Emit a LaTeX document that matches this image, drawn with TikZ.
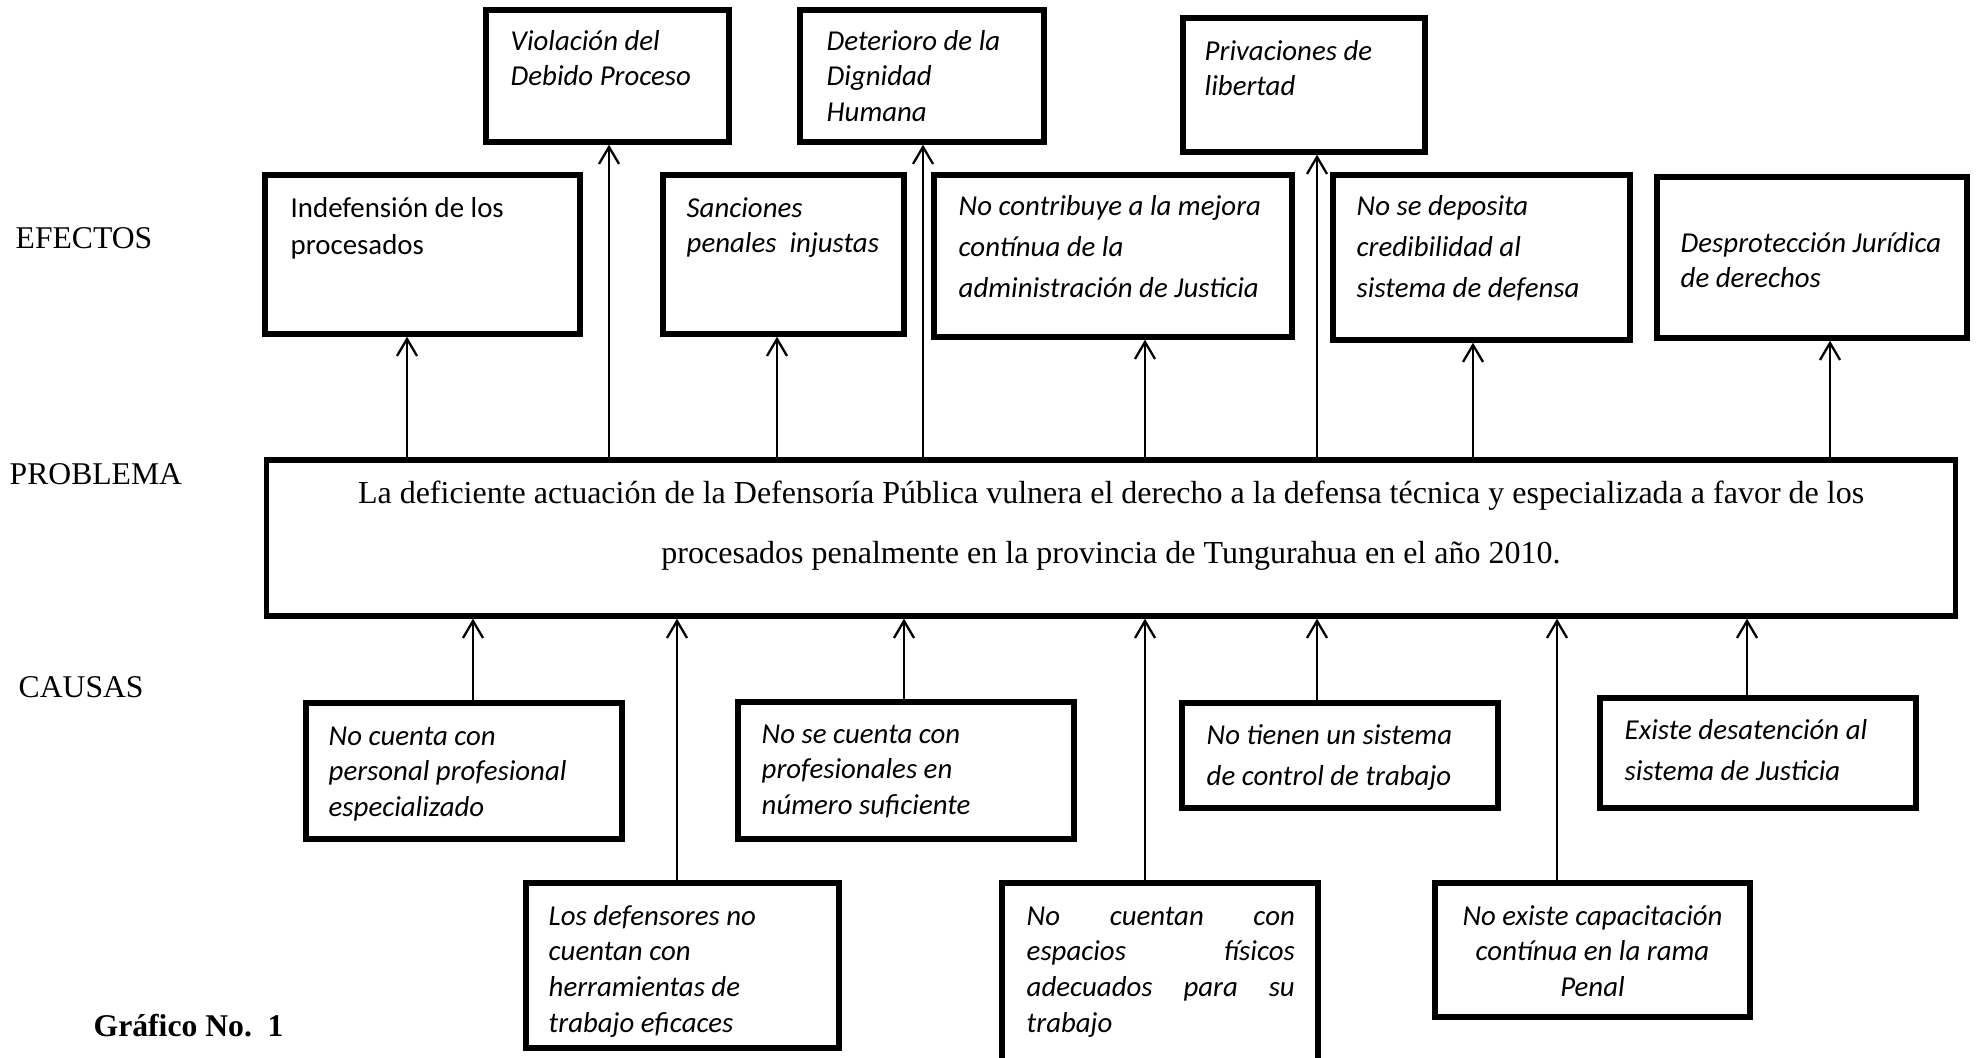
\documentclass[tikz,border=0pt]{standalone}
\usepackage{fontspec}
\setmainfont{Liberation Serif}
\newfontfamily\calibri{Carlito}
\usetikzlibrary{arrows.meta}

\begin{document}
\begin{tikzpicture}[x=0.01cm, y=-0.01cm,
    frame/.style={draw, line width=1.5pt, inner sep=0pt},
    ctxt/.style={anchor=base west, inner sep=0pt, align=flush left,
      font=\calibri\itshape\fontsize{8.2}{10.2}\selectfont},
    ctxtwide/.style={ctxt, font=\calibri\itshape\fontsize{8.2}{11.7}\selectfont},
    side/.style={anchor=base west, inner sep=0pt, font=\fontsize{9}{11}\selectfont},
    arr/.style={line width=0.65pt, -{Straight Barb[length=1.7mm, width=2mm]}}]
    % Page size
    \useasboundingbox (0,0) rectangle (1976,1057);

    % Row labels on the left
    \node[side] (lefe) at (15,248) {EFECTOS};
    \node[side] (lpro) at (9,484) {PROBLEMA};
    \node[side] (lcau) at (18,697) {CAUSAS};
    \node[side, font=\bfseries\fontsize{9}{11}\selectfont] (lgra) at (93,1036) {Gráfico No.\ \ 1};

    % Central problem
    \node[frame, minimum width=16.88cm, minimum height=1.56cm] (prob) at (1111,538) {};
    \node[anchor=base, inner sep=0pt, text width=16cm, align=flush center,
          font=\fontsize{9.1}{17.07}\selectfont] (prob-t) at (1111,503)
      {La deficiente actuación de la Defensoría Pública vulnera el derecho a la defensa técnica y especializada a favor de los\\
       procesados penalmente en la provincia de Tungurahua en el año 2010.};

    % Effects, upper row
    \node[frame, minimum width=2.43cm, minimum height=1.32cm] (viol) at (607.5,76) {};
    \node[ctxt, text width=2.1cm] (viol-t) at (510,50) {Violación del\\Debido Proceso};
    \node[frame, minimum width=2.44cm, minimum height=1.32cm] (deter) at (922,76) {};
    \node[ctxt, text width=2.1cm] (deter-t) at (826,50) {Deterioro de la\\Dignidad\\Humana};
    \node[frame, minimum width=2.42cm, minimum height=1.34cm] (priv) at (1304,85) {};
    \node[ctxt, text width=2.1cm] (priv-t) at (1204,60) {Privaciones de\\libertad};

    % Effects, lower row
    \node[frame, minimum width=3.15cm, minimum height=1.59cm] (indef) at (422.5,254.5) {};
    \node[ctxt, text width=2.8cm, font=\calibri\fontsize{8.2}{10.8}\selectfont] (indef-t) at (290,217) {Indefensión de los\\procesados};
    \node[frame, minimum width=2.41cm, minimum height=1.59cm] (sanc) at (783.5,254.5) {};
    \node[ctxt, text width=2.1cm] (sanc-t) at (686,217) {Sanciones\\penales~ injustas};
    \node[frame, minimum width=3.58cm, minimum height=1.62cm] (contr) at (1113,256) {};
    \node[ctxtwide, text width=3.25cm] (contr-t) at (958,215) {No contribuye a la mejora\\contínua de la\\administración de Justicia};
    \node[frame, minimum width=2.97cm, minimum height=1.65cm] (depos) at (1481.5,257.5) {};
    \node[ctxtwide, text width=2.65cm] (depos-t) at (1356,215) {No se deposita\\credibilidad al\\sistema de defensa};
    \node[frame, minimum width=3.10cm, minimum height=1.61cm] (despr) at (1812,257.5) {};
    \node[ctxt, text width=2.85cm, font=\calibri\itshape\fontsize{8.2}{10}\selectfont] (despr-t) at (1680,252) {Desprotección Jurídica\\de derechos};

    % Causes, first row
    \node[frame, minimum width=3.16cm, minimum height=1.36cm] (pers) at (464,771) {};
    \node[ctxt, text width=2.75cm] (pers-t) at (328,745) {No cuenta con\\personal profesional\\especializado};
    \node[frame, minimum width=3.36cm, minimum height=1.37cm] (prof) at (906,770.5) {};
    \node[ctxt, text width=2.9cm] (prof-t) at (761,743) {No se cuenta con\\profesionales en\\número suficiente};
    \node[frame, minimum width=3.16cm, minimum height=1.05cm] (ctrl) at (1340,755.5) {};
    \node[ctxtwide, text width=2.8cm] (ctrl-t) at (1206,744) {No tienen un sistema\\de control de trabajo};
    \node[frame, minimum width=3.16cm, minimum height=1.10cm] (desat) at (1758,753) {};
    \node[ctxtwide, text width=2.8cm] (desat-t) at (1624,739) {Existe desatención al\\sistema de Justicia};

    % Causes, second row
    \node[frame, minimum width=3.13cm, minimum height=1.65cm] (herr) at (682.5,965.5) {};
    \node[ctxt, text width=2.8cm] (herr-t) at (548,925) {Los defensores no\\cuentan con\\herramientas de\\trabajo eficaces};
    \node[frame, minimum width=3.16cm, minimum height=1.83cm] (esp) at (1160,974.5) {};
    \node[ctxt, text width=2.68cm, align=justify] (esp-t) at (1026,925) {No cuentan con\linebreak espacios físicos\linebreak adecuados para su\linebreak trabajo};
    \node[frame, minimum width=3.15cm, minimum height=1.34cm] (capa) at (1592.5,950) {};
    \node[ctxt, anchor=base, text width=2.95cm, align=flush center] (capa-t) at (1592.5,925) {No existe capacitación\\contínua en la rama\\Penal};

    % Arrows from the problem up to the effects
    \foreach \nd/\ax in {indef/407, viol/609, sanc/777, deter/923, contr/1145, priv/1317, depos/1473, despr/1830}{
      \coordinate (up-\nd) at (\ax,0);
      \draw[arr] (prob.north -| up-\nd) -- (\nd.south -| up-\nd);
    }

    % Arrows from the causes up to the problem
    \foreach \nd/\ax in {pers/473, herr/677, prof/904, esp/1145, ctrl/1317, capa/1557, desat/1747}{
      \coordinate (dn-\nd) at (\ax,0);
      \draw[arr] (\nd.north -| dn-\nd) -- (prob.south -| dn-\nd);
    }
\end{tikzpicture}
\end{document}
